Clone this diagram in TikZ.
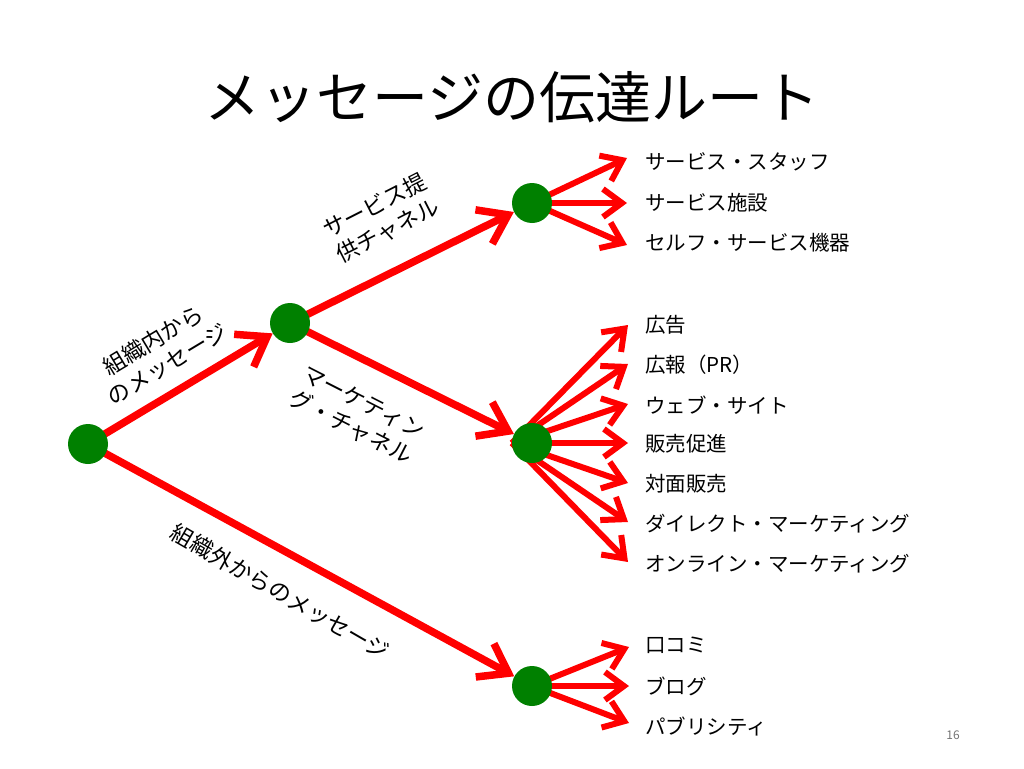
\documentclass[tikz,border=0pt]{standalone}
\usepackage{fontspec}
\setmainfont{Noto Sans CJK JP}
\usetikzlibrary{arrows.meta}
\pgfdeclarelayer{bg}
\pgfsetlayers{bg,main}
\definecolor{dgreen}{RGB}{0,128,0}
\definecolor{ared}{RGB}{255,0,0}
\begin{document}
\begin{tikzpicture}[x=1pt,y=-1pt,
  dot/.style={circle,fill=dgreen,minimum size=40pt,inner sep=0pt},
  mainarrow/.style={draw=ared,line width=7.5pt,-{Straight Barb[length=27pt,width=38pt]}},
  fanarrow/.style={draw=ared,line width=6pt,-{Straight Barb[length=19pt,width=28pt]}},
  lbl/.style={anchor=west,font=\fontsize{20.5}{24}\selectfont,inner sep=0pt},
  rlbl/.style={align=center,font=\fontsize{22.5}{28}\selectfont,inner sep=0pt},
  ]
\useasboundingbox (0,0) rectangle (1024,768);

\node[font=\fontsize{56}{60}\selectfont] (title) at (512,97) {メッセージの伝達ルート};

\node[dot] (root) at (88,444) {};
\node[dot] (mid) at (290,323) {};
\node[dot] (top) at (532,203) {};
\node[dot] (mk) at (532,443) {};
\node[dot] (bot) at (532,686) {};

% top fan
\node[lbl] (t1) at (645,162) {サービス・スタッフ};
\node[lbl] (t2) at (645,203) {サービス施設};
\node[lbl] (t3) at (645,243) {セルフ・サービス機器};
\coordinate (tt1) at (627,158);
\coordinate (tt2) at (627,203);
\coordinate (tt3) at (627,245);

% marketing fan
\node[lbl] (m1) at (645,325) {広告};
\node[lbl] (m2) at (645,365) {広報（PR）};
\node[lbl] (m3) at (645,405) {ウェブ・サイト};
\node[lbl] (m4) at (645,444) {販売促進};
\node[lbl] (m5) at (645,484) {対面販売};
\node[lbl] (m6) at (645,524) {ダイレクト・マーケティング};
\node[lbl] (m7) at (645,564) {オンライン・マーケティング};
\coordinate (mt1) at (628,325);
\coordinate (mt2) at (628,364);
\coordinate (mt3) at (628,404);
\coordinate (mt4) at (628,443);
\coordinate (mt5) at (628,483);
\coordinate (mt6) at (628,522);
\coordinate (mt7) at (628,562);

% bottom fan
\node[lbl] (b1) at (645,645) {口コミ};
\node[lbl] (b2) at (645,686) {ブログ};
\node[lbl] (b3) at (645,727) {パブリシティ};
\coordinate (bt1) at (629,647);
\coordinate (bt2) at (629,686);
\coordinate (bt3) at (629,723);

% rotated labels
\node[rlbl,rotate=31] (l1) at (160,352) {組織内から\\のメッセージ};
\node[rlbl,rotate=27] (l2) at (381,218) {サービス提\\供チャネル};
\node[rlbl,rotate=-27] (l3) at (357,415) {マーケティン\\グ・チャネル};
\node[rlbl,rotate=-30] (l4) at (280,592) {組織外からのメッセージ};

\node[font=\fontsize{12}{14}\selectfont,text=black!55] (pg) at (953,735) {16};

\begin{pgfonlayer}{bg}
\draw[mainarrow] (root.center) -- (mid);
\draw[mainarrow] (mid.center) -- (top);
\draw[mainarrow] (mid.center) -- (mk);
\draw[mainarrow] (root.center) -- (bot);
\foreach \i in {1,2,3} {\draw[fanarrow] (top.center) -- (tt\i);}
\foreach \i in {1,...,7} {\draw[fanarrow] (mk.west) -- (mt\i);}
\foreach \i in {1,2,3} {\draw[fanarrow] (bot.center) -- (bt\i);}
\end{pgfonlayer}
\end{tikzpicture}
\end{document}
